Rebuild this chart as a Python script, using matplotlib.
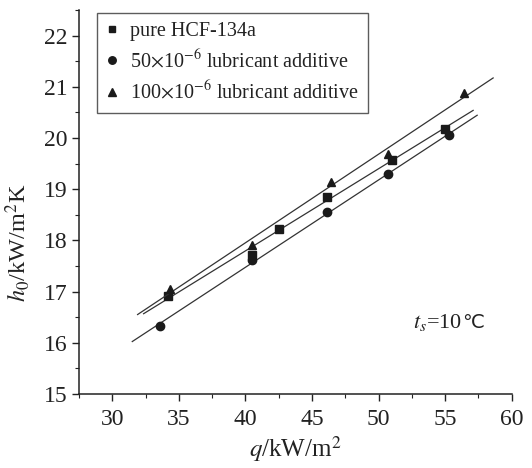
import numpy as np
import matplotlib
matplotlib.use("Agg")
import matplotlib.pyplot as plt

plt.rcParams['font.family'] = ['Liberation Serif', 'DejaVu Serif']
plt.rcParams['mathtext.fontset'] = 'stix'

# Data
q_pure = [34.2, 40.5, 42.5, 46.1, 51.0, 55.0]
h_pure = [16.92, 17.72, 18.23, 18.85, 19.58, 20.18]

q_50 = [33.6, 40.5, 46.1, 50.7, 55.3]
h_50 = [16.33, 17.62, 18.55, 19.30, 20.05]

q_100 = [34.3, 40.5, 46.4, 50.7, 56.4]
h_100 = [17.05, 17.92, 19.14, 19.69, 20.87]

labels = ['pure HCF-134a',
          r'50$\times$10$^{-6}$ lubricant additive',
          r'100$\times$10$^{-6}$ lubricant additive']

xticks = [30, 35, 40, 45, 50, 55, 60]
yticks = [15, 16, 17, 18, 19, 20, 21, 22]

# fit-line extents (styling)
fit_range = {'pure': (32.35, 57.1), '50': (31.5, 57.4), '100': (31.9, 58.6)}

fig = plt.figure(figsize=(5.32, 4.68), dpi=100)
ax = fig.add_axes([0.1485, 0.158, 0.8135, 0.8206])

series = [
    (q_pure, h_pure, 's', 'pure', labels[0], 5.2),
    (q_50, h_50, 'o', '50', labels[1], 6.0),
    (q_100, h_100, '^', '100', labels[2], 6.2),
]
handles = []
for q, h, m, key, lab, ms in series:
    k, b = np.polyfit(q, h, 1)
    x0, x1 = fit_range[key]
    xs = np.array([x0, x1])
    ax.plot(xs, k * xs + b, color='#333333', lw=0.9)
    hd, = ax.plot(q, h, linestyle='none', marker=m, color='#1a1a1a', ms=ms, label=lab)
    handles.append(hd)

ax.set_xlim(27.5, 60)
ax.set_ylim(15, 22.5)
ax.set_xticks(xticks)
ax.set_yticks(yticks)
ax.set_xticks(np.arange(27.5, 60.1, 2.5), minor=True)
ax.set_yticks(np.arange(15, 22.51, 0.5), minor=True)
ax.tick_params(which='major', direction='out', length=5, width=1, labelsize=17,
               colors='#222222')
ax.tick_params(axis='x', which='major', pad=6)
ax.tick_params(which='minor', direction='out', length=3, width=0.8, colors='#222222')
ax.spines['top'].set_visible(False)
ax.spines['right'].set_visible(False)
for s in ['left', 'bottom']:
    ax.spines[s].set_linewidth(1.1)
    ax.spines[s].set_color('#222222')

ax.set_xlabel(r'$q$/kW/m$^2$', fontsize=18, labelpad=3, color='#222222')
ax.set_ylabel(r'$h_0$/kW/m$^2$K', fontsize=17.5, color='#222222')
ax.yaxis.set_label_coords(-0.108, 0.393)

t1 = ax.text(52.55, 16.4, r'$t_s$=10', fontsize=16, ha='left', va='center',
             color='#222222')
ax.annotate('℃', xy=(1.0, 0.5), xycoords=t1, ha='left', va='center',
            fontsize=14, family=['DejaVu Sans'], color='#222222')

leg = ax.legend(handles=handles, loc='upper left', bbox_to_anchor=(0.042, 0.992),
                borderaxespad=0, fontsize=14.5, frameon=True, fancybox=False,
                edgecolor='#333333', handlelength=0.6, handletextpad=0.6,
                labelspacing=0.4, borderpad=0.45, markerscale=0.9)
leg.get_frame().set_linewidth(1.0)
for t in leg.get_texts():
    t.set_color('#222222')

fig.savefig('out.png', dpi=100)
